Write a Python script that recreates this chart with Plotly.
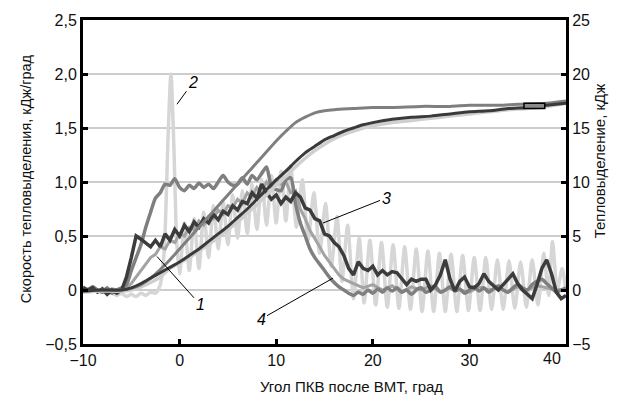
import plotly.graph_objects as go

FONT = "Liberation Sans Narrow, Arial Narrow, Liberation Sans, Arial, sans-serif"

# ---- heat release rate, kJ/deg (left axis) ----
# curve 3 (dark)
angle_3 = [-10, -9.5, -9, -8.5, -8, -7.5, -7, -6.5, -6, -5.5, -5, -4.5, -4, -3.5, -3, -2.5,
           -2, -1.5, -1, -0.5, 0, 0.5, 1, 1.5, 2, 2.5, 3, 3.5, 4, 4.5, 5, 5.5, 6, 6.5, 7,
           7.5, 8, 8.5, 9, 9.5, 10, 10.5, 11, 11.5, 12, 12.5, 13, 13.5, 14, 14.5, 15, 15.5,
           16, 16.5, 17, 17.5, 18, 18.5, 19, 19.5, 20, 20.5, 21, 21.5, 22, 22.5, 23, 23.5,
           24, 24.5, 25, 25.5, 26, 26.5, 27, 27.5, 28, 28.5, 29, 29.5, 30, 30.5, 31, 31.5,
           32, 32.5, 33, 33.5, 34, 34.5, 35, 35.5, 36, 36.5, 37, 37.5, 38, 38.5, 39, 39.5, 40]
rate_3 = [0.02, 0.0, 0.02, -0.02, 0.01, -0.04, 0.0, -0.03, 0.0, 0.12, 0.3, 0.5, 0.47, 0.43,
          0.4, 0.46, 0.4, 0.52, 0.46, 0.56, 0.5, 0.6, 0.54, 0.63, 0.58, 0.66, 0.62, 0.7,
          0.65, 0.73, 0.7, 0.78, 0.74, 0.82, 0.8, 0.9, 0.85, 0.98, 0.9, 0.84, 0.88, 0.8,
          0.86, 0.82, 0.9, 0.86, 0.76, 0.74, 0.66, 0.64, 0.52, 0.5, 0.44, 0.4, 0.32, 0.2,
          0.14, 0.26, 0.2, 0.18, 0.22, 0.14, 0.18, 0.14, 0.17, 0.16, 0.1, 0.05, 0.1, 0.08,
          0.1, 0.1, 0.0, 0.05, 0.14, 0.28, 0.1, -0.01, 0.08, 0.12, 0.03, 0.02, 0.06, 0.15,
          0.08, 0.04, 0.0, 0.05, 0.1, 0.15, 0.06, 0.0, -0.04, -0.08, 0.05, 0.2, 0.28, 0.15,
          -0.02, -0.08, -0.05]

# curve 4 (medium grey)
angle_4 = angle_3
rate_4 = [0.03, 0.0, 0.03, 0.0, -0.02, 0.02, -0.03, 0.0, 0.02, 0.05, 0.18, 0.3, 0.42, 0.58,
          0.72, 0.85, 0.9, 0.98, 0.97, 1.03, 0.95, 0.92, 0.97, 0.94, 0.99, 0.95, 0.98, 0.94,
          1.0, 1.06, 1.0, 0.97, 0.98, 1.04, 0.98, 1.06, 1.02, 1.08, 1.14, 0.96, 0.93, 0.92,
          1.02, 1.04, 0.8, 0.62, 0.5, 0.38, 0.3, 0.24, 0.18, 0.12, 0.07, 0.03, 0.0, -0.03,
          -0.05, -0.02, -0.04, 0.0, -0.03, 0.01, -0.02, 0.02, -0.01, 0.02, -0.02, 0.0, -0.04,
          0.0, 0.02, -0.02, 0.0, 0.03, -0.02, 0.0, 0.03, -0.01, 0.01, -0.03, 0.0, 0.03,
          -0.01, 0.02, -0.02, 0.01, 0.04, 0.0, -0.02, 0.02, 0.05, 0.02, 0.0, 0.05, 0.08, 0.1,
          0.06, 0.02, -0.02, 0.0, 0.02]

# curve 1 (light-medium grey)
angle_1 = [-10, -9, -8, -7, -6, -5.5, -5, -4.5, -4, -3.5, -3, -2.5, -2, -1.5, -1, -0.5, 0,
           0.5, 1, 1.5, 2, 2.5, 3, 3.5, 4, 4.5, 5, 5.5, 6, 6.5, 7, 7.5, 8, 8.5, 9, 9.5, 10,
           10.5, 11, 11.5, 12, 12.5, 13, 13.5, 14, 14.5, 15, 15.5, 16, 16.5, 17, 18, 19, 20,
           21, 22, 23, 24, 25, 26, 27, 28, 29, 30, 31, 32, 33, 34, 35, 36, 37, 38, 39, 40]
rate_1 = [0.0, 0.02, -0.02, 0.01, -0.01, 0.02, 0.06, 0.12, 0.18, 0.24, 0.3, 0.33, 0.4, 0.38,
          0.46, 0.44, 0.52, 0.5, 0.58, 0.56, 0.64, 0.6, 0.68, 0.66, 0.74, 0.7, 0.78, 0.76,
          0.84, 0.8, 0.9, 0.86, 0.95, 0.9, 1.0, 0.94, 1.02, 0.98, 1.0, 0.9, 0.92, 0.75, 0.66,
          0.55, 0.48, 0.4, 0.32, 0.26, 0.2, 0.14, 0.1, 0.06, 0.02, 0.05, 0.0, 0.04, -0.02,
          0.03, 0.0, 0.04, -0.02, 0.02, 0.0, -0.02, 0.03, 0.0, 0.02, -0.02, 0.03, 0.0, 0.04,
          0.02, 0.0, 0.01]

# curve 2 (light grey, oscillating)
angle_2 = [-10, -9, -8, -7, -6.5, -6, -5.5, -5, -4.5, -4, -3.5, -3, -2.5, -2, -1.6, -1.2,
           -0.9, -0.6, -0.3, 0.0, 0.5, 1.0, 1.5, 2.0, 2.5, 3.0, 3.5, 4.0, 4.5, 5.0, 5.5, 6.0,
           6.5, 7.0, 7.5, 8.0, 8.5, 9.0, 9.5, 10.0, 10.5, 11.0, 11.5, 12.1, 12.7, 13.3, 13.9,
           14.5, 15.1, 15.7, 16.3, 16.8, 17.4, 18.0, 18.6, 19.1, 19.7, 20.3, 20.9, 21.5, 22.1,
           22.7, 23.3, 23.9, 24.5, 25.1, 25.7, 26.3, 26.9, 27.5, 28.1, 28.7, 29.3, 29.9, 30.5,
           31.1, 31.7, 32.3, 32.9, 33.5, 34.1, 34.7, 35.3, 35.9, 36.5, 37.1, 37.7, 38.2, 38.6,
           39.1, 39.6, 40.0]
rate_2 = [0.01, 0.0, -0.02, -0.03, -0.05, -0.03, -0.06, -0.04, -0.06, -0.03, -0.05, -0.02,
          -0.03, 0.05, 0.35, 1.4, 2.0, 1.35, 0.45, 0.15, 0.62, 0.18, 0.66, 0.2, 0.72, 0.3,
          0.78, 0.38, 0.82, 0.42, 0.88, 0.48, 0.92, 0.52, 0.98, 0.56, 1.02, 0.6, 1.06, 0.62,
          1.1, 0.64, 1.15, 0.58, 1.02, 0.46, 0.9, 0.34, 0.8, 0.22, 0.68, 0.08, 0.6, -0.08,
          0.48, -0.12, 0.46, -0.14, 0.44, -0.16, 0.42, -0.17, 0.4, -0.18, 0.38, -0.2, 0.36,
          -0.2, 0.34, -0.2, 0.33, -0.2, 0.32, -0.19, 0.3, -0.19, 0.3, -0.18, 0.28, -0.18,
          0.27, -0.17, 0.26, -0.16, 0.28, -0.14, 0.34, -0.05, 0.45, 0.0, 0.2, -0.02]

# ---- cumulative heat release, kJ (right axis) ----
angle_q4 = [-10, -8, -6, -5, -4, -3, -2, -1, 0, 1, 2, 3, 4, 5, 6, 7, 8, 9, 10, 11, 12, 13,
            14, 15, 16, 18, 20, 22, 25, 28, 30, 33, 35, 38, 40]
heat_q4 = [-0.1, 0.0, 0.0, 0.15, 0.5, 1.1, 1.9, 2.8, 3.8, 4.8, 5.8, 6.8, 7.8, 8.8, 9.8,
           10.8, 11.8, 12.8, 13.8, 14.7, 15.5, 16.0, 16.4, 16.6, 16.7, 16.8, 16.9, 16.9,
           17.0, 17.0, 17.1, 17.1, 17.2, 17.3, 17.5]

angle_q3 = [-10, -8, -6, -5, -4, -3, -2, -1, 0, 1, 2, 3, 4, 5, 6, 7, 8, 9, 10, 11, 12, 13,
            14, 15, 16, 17, 18, 19, 20, 22, 24, 26, 28, 30, 32, 34, 36, 38, 40]
heat_q3 = [-0.1, 0.0, 0.0, 0.2, 0.6, 1.1, 1.6, 2.1, 2.6, 3.2, 3.8, 4.5, 5.2, 5.9, 6.7, 7.5,
           8.4, 9.3, 10.2, 11.0, 11.9, 12.7, 13.3, 13.9, 14.3, 14.7, 15.0, 15.3, 15.5, 15.8,
           16.0, 16.1, 16.3, 16.5, 16.6, 16.8, 16.9, 17.1, 17.3]
angle_q2 = angle_q3
heat_q2 = [-0.2, -0.1, -0.1, 0.0, 0.3, 0.7, 1.2, 2.0, 2.5, 3.0, 3.6, 4.2, 4.9, 5.6, 6.3,
           7.1, 7.9, 8.8, 9.7, 10.5, 11.4, 12.2, 12.9, 13.5, 14.0, 14.4, 14.7, 15.0, 15.2,
           15.5, 15.7, 15.9, 16.1, 16.3, 16.5, 16.7, 16.8, 17.0, 17.3]

# small marker box on the plateau (angle range, kJ range)
box_angle = [35.65, 37.8]
box_heat = [16.8, 17.3]

x_ticks = [-10, 0, 10, 20, 30, 40]
x_labels = ["\u221210", "0", "10", "20", "30", ""]
last_x_label = "40"
y_ticks = [-0.5, 0, 0.5, 1.0, 1.5, 2.0, 2.5]
y_labels = ["\u22120,5", "0", "0,5", "1,0", "1,5", "2,0", "2,5"]
y2_ticks = [-5, 0, 5, 10, 15, 20, 25]
y2_labels = ["\u22125", "0", "5", "10", "15", "20", "25"]

for a, b in [(angle_3, rate_3), (angle_4, rate_4), (angle_1, rate_1), (angle_2, rate_2),
             (angle_q4, heat_q4), (angle_q3, heat_q3), (angle_q2, heat_q2)]:
    assert len(a) == len(b)

fig = go.Figure()

def add(x, y, color, width, axis="y", shape="linear"):
    fig.add_trace(go.Scatter(x=x, y=y, mode="lines", yaxis=axis, hoverinfo="skip",
                             line=dict(color=color, width=width, shape=shape, smoothing=0.7)))

add(angle_2, rate_2, "#d6d6d6", 3.5, shape="spline")
add(angle_q2, heat_q2, "#cfcfcf", 3.5, axis="y2", shape="spline")
add(angle_1, rate_1, "#a3a3a3", 3)
add(angle_q4, heat_q4, "#7f7f7f", 3, axis="y2", shape="spline")
add(angle_q3, heat_q3, "#3a3a3a", 3, axis="y2", shape="spline")
add(angle_4, rate_4, "#7f7f7f", 3.5, shape="spline")
add(angle_3, rate_3, "#3c3c3c", 3.5)

fig.add_shape(type="rect", xref="x", yref="y2", x0=box_angle[0], x1=box_angle[1],
              y0=box_heat[0], y1=box_heat[1], line=dict(color="black", width=1.5),
              fillcolor="#8a8a8a")

axis_common = dict(showline=True, linecolor="black", linewidth=3, ticks="inside",
                   ticklen=5, tickwidth=3, tickcolor="black", zeroline=False,
                   tickfont=dict(family=FONT, size=16, color="#111"))

fig.update_layout(
    width=619, height=397,
    margin=dict(l=83, r=53, t=14, b=53),
    paper_bgcolor="white", plot_bgcolor="white",
    showlegend=False,
    xaxis=dict(range=[-10, 40], tickvals=x_ticks, ticktext=x_labels, showgrid=False,
               mirror=True, **axis_common),
    yaxis=dict(range=[-0.5, 2.5], tickvals=y_ticks, ticktext=y_labels, showgrid=True,
               gridcolor="#cdcdcd", gridwidth=2, mirror=True, **axis_common),
    yaxis2=dict(range=[-5, 25], tickvals=y2_ticks, ticktext=y2_labels, overlaying="y",
                side="right", showgrid=False, **axis_common),
)

# last x tick label sits just inside the right corner
fig.add_annotation(xref="x", yref="paper", x=38.5, y=0, yanchor="top", yshift=-4,
                   text=last_x_label, showarrow=False,
                   font=dict(family=FONT, size=16, color="#111"))

# curve numbers with leader lines
labels = [("2", -0.27, 1.72, 16, -22), ("1", -2.34, 0.31, 43, 48),
          ("3", 14.85, 0.62, 63, -25), ("4", 15.88, 0.11, -72, 41)]
for txt, lx, ly, ax, ay in labels:
    fig.add_annotation(x=lx, y=ly, xref="x", yref="y", text="<i>" + txt + "</i>",
                       showarrow=True, arrowhead=0, arrowwidth=1, arrowcolor="black",
                       ax=ax, ay=ay, font=dict(family=FONT, size=16, color="black"))

# axis titles
fig.add_annotation(xref="paper", yref="paper", x=-0.14, y=0.51, textangle=-90,
                   text="Скорость тепловыделения, кДж/град", showarrow=False,
                   font=dict(family=FONT, size=14.5, color="#111"))
fig.add_annotation(xref="paper", yref="paper", x=1.093, y=0.565, textangle=-90,
                   text="Тепловыделение, кДж", showarrow=False,
                   font=dict(family=FONT, size=15, color="#111"))
fig.add_annotation(xref="paper", yref="paper", x=0.555, y=-0.13, yanchor="middle",
                   text="Угол ПКВ после ВМТ, град", showarrow=False,
                   font=dict(family=FONT, size=15, color="#111"))

fig.write_html("out.html")
